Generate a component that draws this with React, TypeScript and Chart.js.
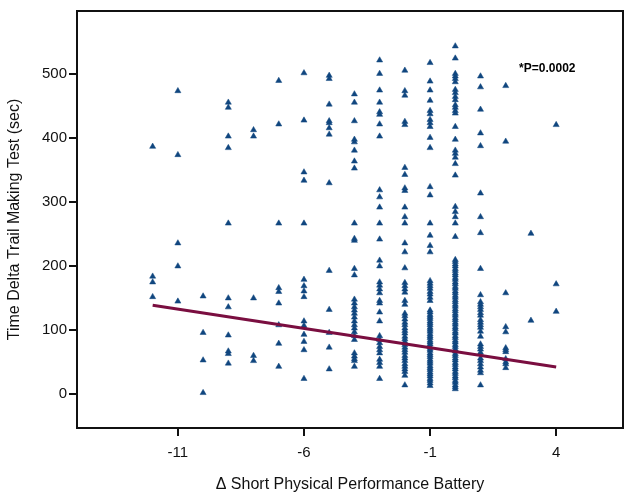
import React, { useEffect, useRef } from "react";
import { Chart, registerables } from "chart.js";

Chart.register(...registerables);

// x columns (Δ SPPB) and the Trail Making Test deltas observed at each one
const yAtM12 = [387, 184, 175, 152];
const yAtM11 = [474, 374, 236, 200, 145];
const yAtM10 = [153, 96, 53, 2];
const yAtM9 = [456, 448, 403, 385, 267, 150, 136, 92, 67, 63, 48];
const yAtM8 = [413, 403, 150, 60, 52];
const yAtM7 = [490, 422, 267, 166, 160, 142, 108, 79, 43];
const yAtM6 = [502, 428, 347, 334, 267, 179, 169, 161, 152, 114, 107, 93, 82, 69, 24];
const yAtM5 = [498, 493, 453, 427, 424, 416, 406, 330, 193, 132, 96, 73, 39];
const yAtM4 = [469, 456, 427, 398, 394, 381, 364, 353, 267, 243, 240, 196, 186, 148, 142, 136, 131, 126, 120, 114, 108, 103, 97, 91, 85, 64, 59, 55, 52, 43];
const yAtM3 = [522, 501, 475, 456, 441, 437, 422, 403, 319, 308, 292, 267, 242, 209, 200, 175, 170, 164, 158, 146, 142, 128, 114, 91, 85, 80, 74, 69, 64, 54, 49, 43, 24];
const yAtM2 = [506, 474, 467, 426, 421, 354, 343, 322, 318, 292, 277, 267, 236, 222, 197, 174, 169, 164, 159, 146, 140, 126, 122, 117, 112, 108, 103, 99, 95, 90, 86, 82, 77, 73, 69, 65, 60, 56, 52, 47, 43, 39, 35, 29, 14];
const yAtM1 = [518, 489, 475, 459, 443, 438, 429, 424, 418, 401, 385, 324, 311, 267, 248, 232, 222, 177, 173, 169, 165, 160, 156, 151, 146, 131, 128, 124, 121, 118, 114, 111, 108, 104, 101, 98, 94, 91, 88, 84, 81, 78, 74, 71, 68, 64, 61, 58, 54, 51, 48, 44, 41, 38, 34, 31, 28, 24, 21, 17, 13];
const yAt0 = [544, 525, 501, 497, 493, 488, 476, 471, 465, 460, 452, 448, 443, 439, 418, 398, 381, 376, 370, 360, 342, 293, 285, 277, 267, 246, 210, 207, 203, 200, 196, 193, 189, 186, 182, 179, 175, 172, 168, 165, 161, 158, 154, 151, 147, 144, 140, 137, 133, 130, 126, 123, 119, 116, 112, 109, 105, 102, 98, 95, 91, 88, 84, 81, 77, 74, 70, 67, 63, 60, 56, 53, 49, 46, 42, 39, 35, 32, 28, 25, 21, 18, 14, 11, 8];
const yAt1 = [497, 480, 445, 408, 388, 314, 277, 252, 196, 155, 144, 140, 136, 132, 127, 123, 116, 112, 108, 104, 98, 90, 78, 74, 70, 65, 56, 52, 47, 42, 37, 33, 14];
const yAt2 = [482, 395, 158, 105, 97, 72, 69, 66, 55, 50, 47, 41];
const yAt3 = [251, 115];
const yAt4 = [421, 172, 129];

const xColumns = [-12, -11, -10, -9, -8, -7, -6, -5, -4, -3, -2, -1, 0, 1, 2, 3, 4];
const yColumns = [yAtM12, yAtM11, yAtM10, yAtM9, yAtM8, yAtM7, yAtM6, yAtM5, yAtM4, yAtM3, yAtM2, yAtM1, yAt0, yAt1, yAt2, yAt3, yAt4];

// regression line end points
const fitX = [-12, 4];
const fitY = [139, 42.5];

const xTicks = [-11, -6, -1, 4];
const yTicks = [0, 100, 200, 300, 400, 500];

const pLabel = "*P=0.0002";
const pLabelAt = { x: 2.53, y: 509 };

const FONT = "'Liberation Sans', Arial, sans-serif";

const framePlugin = {
  id: "frame",
  afterDraw(chart: any) {
    const { ctx, chartArea, scales } = chart;
    ctx.save();
    ctx.strokeStyle = "#111";
    ctx.lineWidth = 2;
    ctx.strokeRect(chartArea.left, chartArea.top, chartArea.right - chartArea.left, chartArea.bottom - chartArea.top);
    ctx.fillStyle = "#000";
    ctx.font = `bold 12px ${FONT}`;
    ctx.textAlign = "left";
    ctx.textBaseline = "middle";
    ctx.fillText(pLabel, scales.x.getPixelForValue(pLabelAt.x), scales.y.getPixelForValue(pLabelAt.y));
    ctx.restore();
  },
};

export default function App() {
  const ref = useRef<HTMLCanvasElement>(null);
  useEffect(() => {
    const points: { x: number; y: number }[] = [];
    xColumns.forEach((x, i) => yColumns[i].forEach((y) => points.push({ x, y })));
    const chart = new Chart(ref.current!, {
      type: "scatter",
      data: {
        datasets: [
          {
            type: "line",
            data: fitX.map((x, i) => ({ x, y: fitY[i] })),
            borderColor: "#7a0e40",
            borderWidth: 3,
            pointRadius: 0,
            fill: false,
          } as any,
          {
            data: points,
            pointStyle: "triangle",
            pointRadius: 3.5,
            backgroundColor: "#10467f",
            borderColor: "#10467f",
            borderWidth: 0.5,
          },
        ],
      },
      options: {
        animation: false,
        responsive: false,
        layout: { padding: { left: 0, top: 5, right: 7, bottom: 0 } },
        plugins: { legend: { display: false }, tooltip: { enabled: false } },
        scales: {
          x: {
            type: "linear",
            min: -15,
            max: 6.65,
            afterBuildTicks: (s: any) => {
              s.ticks = xTicks.map((v) => ({ value: v }));
            },
            afterFit: (s: any) => {
              s.height = 69;
            },
            border: { display: false },
            grid: { drawOnChartArea: false, drawTicks: true, tickLength: 8, color: "#111", lineWidth: 2 },
            ticks: { color: "#111", font: { family: FONT, size: 15 }, padding: 8 },
            title: {
              display: true,
              text: "Δ Short Physical Performance Battery",
              color: "#111",
              font: { family: FONT, size: 16 },
              padding: { top: 0, bottom: 3 },
            },
          },
          y: {
            type: "linear",
            min: -53,
            max: 599,
            afterBuildTicks: (s: any) => {
              s.ticks = yTicks.map((v) => ({ value: v }));
            },
            afterFit: (s: any) => {
              s.width = 77;
            },
            border: { display: false },
            grid: { drawOnChartArea: false, drawTicks: true, tickLength: 8, color: "#111", lineWidth: 2 },
            ticks: { color: "#111", font: { family: FONT, size: 15 }, padding: 2 },
            title: {
              display: true,
              text: "Time Delta Trail Making Test (sec)",
              color: "#111",
              font: { family: FONT, size: 16 },
              padding: { top: 5, bottom: 0 },
            },
          },
        },
      },
      plugins: [framePlugin],
    });
    return () => chart.destroy();
  }, []);
  return (
    <div style={{ position: "fixed", left: 0, top: 0, width: 630, height: 497, background: "#fff" }}>
      <canvas ref={ref} width={630} height={497} />
    </div>
  );
}
